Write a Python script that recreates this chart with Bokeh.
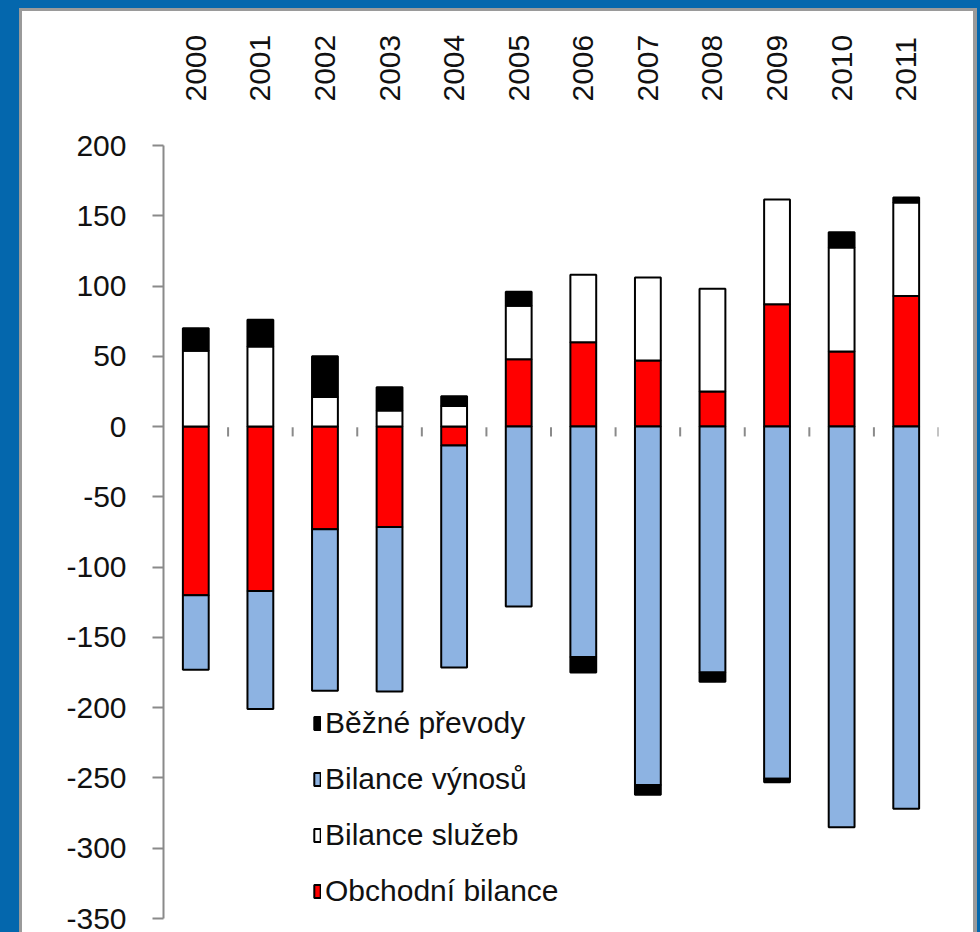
from bokeh.plotting import figure
from bokeh.models import Range1d, FixedTicker, Legend, LegendItem
from bokeh.layouts import column
from bokeh.embed import file_html
from bokeh.resources import INLINE
from math import pi

# ---- data (billions CZK) ----
years = ["2000", "2001", "2002", "2003", "2004", "2005",
         "2006", "2007", "2008", "2009", "2010", "2011"]
obchodni_bilance = [-120, -117, -73, -71.5, -13.4, 48, 60, 47, 25, 87, 53.5, 93]
bilance_sluzeb = [54, 57, 21, 11.5, 14.6, 38, 48, 59, 73, 74.5, 74, 66.5]
bilance_vynosu = [-53, -84, -115, -117, -158, -128, -164, -255, -175, -250.5, -285, -272]
bezne_prevody = [16, 19, 29, 16.5, 7, 10, -11, -7, -6.5, -2.5, 10.7, 3.5]
y_ticks = [-350, -300, -250, -200, -150, -100, -50, 0, 50, 100, 150, 200]

series = [
    ("Obchodní bilance", obchodni_bilance, "#ff0000"),
    ("Bilance služeb", bilance_sluzeb, "#ffffff"),
    ("Bilance výnosů", bilance_vynosu, "#8db3e2"),
    ("Běžné převody", bezne_prevody, "#000000"),
]
legend_order = ["Běžné převody", "Bilance výnosů", "Bilance služeb", "Obchodní bilance"]

BLUE = "#0467ad"
GRAY = "#9a9a9a"
AXIS_GRAY = "#8a8a8a"
FONT = "Liberation Sans"

n = len(years)
centers = [i + 0.5 for i in range(n)]

p = figure(width=951, height=921,
           x_range=Range1d(0, n), y_range=Range1d(-350, 200),
           x_axis_location="above",
           output_backend="svg", toolbar_location=None,
           min_border_left=141, min_border_right=35,
           min_border_top=134, min_border_bottom=14)
p.background_fill_color = "white"
p.border_fill_color = "white"
p.outline_line_color = None
p.xgrid.visible = False
p.ygrid.visible = False

# stacked bars: positives and negatives stacked separately
pos_base = [0.0] * n
neg_base = [0.0] * n
renderers = {}
for name, vals, col in series:
    bottoms, tops = [], []
    for i, v in enumerate(vals):
        if v >= 0:
            bottoms.append(pos_base[i]); tops.append(pos_base[i] + v)
            pos_base[i] += v
        else:
            tops.append(neg_base[i]); bottoms.append(neg_base[i] + v)
            neg_base[i] += v
    r = p.vbar(x=centers, width=0.4, bottom=bottoms, top=tops,
               fill_color=col, line_color="black", line_width=2)
    renderers[name] = r

# category tick marks on the zero line
bounds = [i + 1 for i in range(n)]
p.segment(x0=bounds, x1=bounds, y0=[-0.5] * n, y1=[-7] * n,
          line_color=AXIS_GRAY, line_width=2)

# top axis with years
xa = p.xaxis[0]
xa.ticker = FixedTicker(ticks=centers)
xa.major_label_overrides = {c: y for c, y in zip(centers, years)}
xa.major_label_orientation = pi / 2
xa.axis_line_color = None
xa.major_tick_line_color = None
xa.minor_tick_line_color = None
xa.major_label_standoff = 38
xa.major_label_text_font = FONT
xa.major_label_text_font_size = "30px"
xa.major_label_text_color = "#111111"

ya = p.yaxis[0]
ya.ticker = FixedTicker(ticks=y_ticks)
ya.major_label_overrides = {t: str(t) for t in y_ticks}
ya.axis_line_color = AXIS_GRAY
ya.axis_line_width = 2
ya.major_tick_line_color = AXIS_GRAY
ya.major_tick_line_width = 2
ya.major_tick_out = 11
ya.major_tick_in = 0
ya.minor_tick_line_color = None
ya.major_label_standoff = 26
ya.major_label_text_font = FONT
ya.major_label_text_font_size = "30px"
ya.major_label_text_color = "#111111"

legend = Legend(items=[LegendItem(label=name, renderers=[renderers[name]])
                       for name in legend_order],
                location=(150, 10))
legend.border_line_color = None
legend.background_fill_alpha = 0
legend.padding = 0
legend.margin = 0
legend.spacing = 22
legend.glyph_width = 8
legend.glyph_height = 16
legend.label_standoff = 4
legend.label_text_font = FONT
legend.label_text_font_size = "30px"
legend.label_text_color = "#111111"
p.add_layout(legend, "center")

white = column(p, styles={"background-color": "white"})
inner = column(white, styles={"background-color": GRAY, "padding": "3px 4px 0px 3px"})
outer = column(inner, styles={"background-color": BLUE, "padding": "8px 3px 0px 19px"})

open("out.html", "w").write(file_html(outer, INLINE))
